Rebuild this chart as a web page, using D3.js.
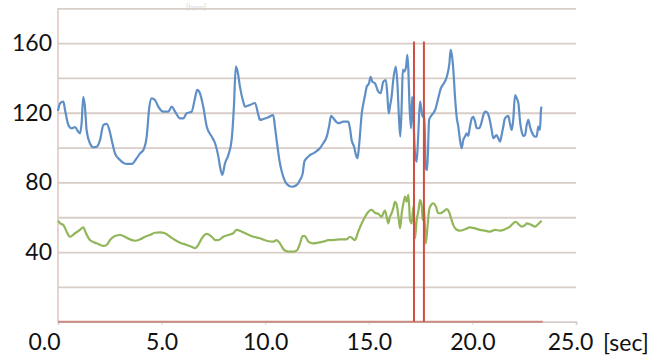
<!DOCTYPE html>
<html>
<head>
<meta charset="utf-8">
<script src="https://cdn.jsdelivr.net/npm/d3@7"></script>
<style>
body { margin: 0; background: #fff; }
text { font-family: Lato, "Open Sans", sans-serif; }
</style>
</head>
<body>
<script>
// heart rate (blue) trace, seconds / bpm
var hrTime = [0.00,0.10,0.26,0.34,0.50,0.66,0.82,0.98,1.06,1.14,1.22,1.30,1.38,1.54,1.70,1.87,2.03,2.19,2.35,2.48,2.59,2.75,2.99,3.32,3.56,3.80,3.96,4.12,4.28,4.41,4.52,4.68,4.84,5.08,5.32,5.49,5.65,5.89,6.05,6.21,6.45,6.61,6.72,6.85,7.01,7.18,7.42,7.58,7.74,7.82,7.93,8.06,8.22,8.38,8.49,8.58,8.67,8.78,8.94,9.03,9.27,9.51,9.67,9.75,9.91,10.15,10.39,10.47,10.55,10.71,10.87,11.04,11.28,11.52,11.68,11.81,11.89,12.00,12.16,12.32,12.48,12.64,12.80,12.97,13.08,13.18,13.29,13.42,13.53,13.77,14.01,14.09,14.17,14.29,14.38,14.45,14.51,14.58,14.66,14.74,14.82,14.90,15.01,15.09,15.17,15.30,15.46,15.57,15.70,15.82,15.89,15.96,16.02,16.10,16.18,16.30,16.38,16.46,16.52,16.59,16.64,16.71,16.80,16.86,16.91,16.96,17.04,17.09,17.15,17.23,17.31,17.39,17.47,17.52,17.60,17.68,17.75,17.82,17.91,18.04,18.20,18.35,18.48,18.60,18.76,18.89,18.95,19.02,19.08,19.16,19.24,19.32,19.40,19.48,19.56,19.64,19.72,19.80,19.88,19.97,20.04,20.13,20.21,20.33,20.45,20.53,20.61,20.72,20.82,20.93,21.01,21.09,21.17,21.25,21.33,21.41,21.49,21.57,21.73,21.81,21.90,21.97,22.06,22.14,22.22,22.30,22.38,22.46,22.54,22.62,22.70,22.78,22.86,22.94,23.02,23.10,23.18,23.26,23.31,23.34];
var hrValue = [121,125.4,126.4,121.6,113.0,111.1,111.7,109.1,108.2,114.0,129.2,123.5,110.1,102.5,100.2,100.5,104.4,113.0,113.6,110.1,104.4,96.7,92.9,90.6,90.6,93.9,96.7,98.6,106.3,123.5,128.3,127.3,123.5,120.6,120.6,123.5,120.6,116.8,116.8,119.7,120.6,128.3,133.1,131.2,123.5,112.0,106.3,102.5,94.8,89.0,84.3,91.0,95.7,104.4,123.5,146.5,143.6,135.0,126.4,123.5,124.5,125.6,118.7,115.9,116.4,117.4,118.7,112.0,104.4,91.0,83.3,79.1,77.5,78.5,81.4,85.2,91.9,93.9,95.7,96.7,98.0,99.6,102.5,106.3,112.0,118.2,116.8,114.9,114.0,114.9,114.9,111.1,104.4,100.5,95.7,93.9,98.6,108.2,119.7,125.4,130.2,135.0,136.9,140.7,137.9,136.9,132.1,131.2,137.9,138.8,131.2,119.7,123.5,129.2,138.8,146.5,136.9,115.9,106.3,125.4,144.6,143.6,146.5,153.2,144.6,125.4,111.1,129.2,117.7,96.7,91.9,108.2,126.4,123.5,117.7,118.7,88.1,87.1,115.9,118.7,121.6,128.3,134.1,136.5,140.5,148.4,156.1,152.2,144.6,129.2,117.7,112.0,104.4,99.6,104.4,106.3,108.2,106.7,112.0,116.8,117.7,114.9,111.1,111.1,114.9,118.7,120.6,120.1,116.8,110.1,105.3,106.3,107.2,105.3,103.4,107.2,112.0,116.8,118.2,114.0,110.1,115.9,130.2,128.3,125.4,114.9,109.1,106.7,107.2,113.0,115.9,112.0,109.1,107.2,106.3,106.3,112.0,110.1,121.6,123.5];

// second (green) trace
var lowTime = [0.00,0.10,0.26,0.42,0.58,0.82,1.06,1.22,1.35,1.54,1.87,2.19,2.35,2.51,2.75,2.99,3.23,3.47,3.72,3.96,4.20,4.44,4.68,4.92,5.16,5.41,5.65,5.89,6.21,6.45,6.61,6.77,6.94,7.18,7.42,7.58,7.74,7.98,8.22,8.46,8.62,8.87,9.11,9.43,9.75,10.07,10.39,10.55,10.71,10.91,11.11,11.36,11.55,11.68,11.81,11.92,12.08,12.32,12.56,12.80,13.05,13.29,13.61,13.93,14.09,14.33,14.49,14.66,14.82,14.98,15.14,15.30,15.46,15.62,15.70,15.78,15.86,15.94,16.02,16.10,16.18,16.26,16.35,16.43,16.51,16.59,16.67,16.75,16.83,16.91,16.99,17.07,17.15,17.23,17.31,17.39,17.47,17.55,17.60,17.66,17.75,17.82,17.91,18.00,18.11,18.24,18.35,18.47,18.60,18.76,18.87,18.97,19.08,19.21,19.40,19.64,19.88,20.13,20.37,20.61,20.85,21.09,21.33,21.57,21.81,21.97,22.09,22.22,22.38,22.54,22.62,22.86,23.02,23.18,23.34];
var lowValue = [58,56.5,55.5,51.7,48.8,50.8,52.7,54.2,50.8,46.9,45.0,43.5,44.1,46.9,49.2,49.8,48.8,47.3,46.5,47.3,48.8,49.8,51.1,51.3,50.8,48.8,46.9,45.4,44.1,43.1,42.2,44.1,47.9,50.4,48.8,46.9,46.9,48.8,49.8,50.8,52.7,51.7,50.4,48.8,47.9,46.5,46.0,46.9,45.0,41.2,40.2,40.2,41.2,45.0,49.2,49.2,46.0,45.0,45.4,46.0,46.9,46.9,47.3,47.3,48.8,46.9,51.7,56.5,60.3,63.2,64.2,62.6,61.9,60.3,62.3,63.8,60.3,56.5,60.3,62.3,65.1,68.9,67.0,60.3,53.6,62.3,68.0,71.8,68.9,72.8,58.4,56.5,66.1,47.9,58.4,63.2,69.9,67.0,58.4,66.1,45.0,52.7,64.2,67.0,68.0,66.1,62.3,62.3,63.2,64.6,63.2,59.4,55.5,53.1,52.3,53.1,54.2,53.6,52.7,52.3,51.7,52.7,52.3,53.1,54.6,56.5,57.4,56.1,54.6,55.5,56.5,55.5,54.6,56.1,58.0];

var markerTimes = [17.18, 17.66];
var gridValues = [20, 40, 60, 80, 100, 120, 140, 160, 180];
var yLabels = [40, 80, 120, 160];
var xTicks = [0, 5, 10, 15, 20, 25];
var recordEnd = 23.4;

var svg = d3.select("body").append("svg").attr("width", 665).attr("height", 362);
var x = d3.scaleLinear().domain([0, 25]).range([58, 576]);
var y = d3.scaleLinear().domain([0, 180]).range([321.7, 8.3]);

// faint caption at the top
svg.append("text").attr("x", 186).attr("y", 10).attr("font-size", 8)
  .attr("fill", "#d8d8d8").text("[bpm]");

// horizontal gridlines
svg.append("g").attr("transform", "translate(58,0)")
  .call(d3.axisLeft(y).tickValues(gridValues).tickSize(-518).tickFormat(""))
  .call(function(g){
    g.select(".domain").remove();
    g.selectAll("line").attr("stroke", "#d9cdc8").attr("stroke-width", 1.8);
  });

// y labels
svg.append("g").attr("transform", "translate(58,0)")
  .call(d3.axisLeft(y).tickValues(yLabels).tickSize(0).tickPadding(6).tickFormat(d3.format("d")))
  .call(function(g){
    g.select(".domain").remove();
    g.selectAll("text").attr("font-size", 23).attr("fill", "#111")
      .attr("font-family", "Lato, 'Open Sans', sans-serif");
  });

// left axis line
svg.append("line").attr("x1", 58).attr("x2", 58).attr("y1", y(180)).attr("y2", y(0))
  .attr("stroke", "#dcc6c1").attr("stroke-width", 1.5);

// x axis
svg.append("g").attr("transform", "translate(0," + y(0) + ")")
  .call(d3.axisBottom(x).tickValues(xTicks).tickSize(3).tickPadding(9).tickFormat(d3.format(".1f")))
  .call(function(g){
    g.select(".domain").attr("stroke", "#d6cdca").attr("stroke-width", 1.8);
    g.selectAll("line").attr("stroke", "#d6cdca");
    g.selectAll("text").attr("font-size", 23).attr("fill", "#111")
      .attr("font-family", "Lato, 'Open Sans', sans-serif")
      .attr("dx", function(d){ return d === 0 ? -14 : (d === 25 ? -6 : 0); });
  });

svg.append("text").attr("x", 603).attr("y", y(0) + 29).attr("font-size", 23)
  .attr("fill", "#111").text("[sec]");

// zero line of the recording
svg.append("line").attr("x1", x(0)).attr("x2", x(recordEnd)).attr("y1", y(0)).attr("y2", y(0))
  .attr("stroke", "#c98a80").attr("stroke-width", 2);

var line = d3.line().x(function(d){ return x(d[0]); }).y(function(d){ return y(d[1]); })
  .curve(d3.curveMonotoneX);

svg.append("path").datum(d3.zip(lowTime, lowValue)).attr("d", line)
  .attr("fill", "none").attr("stroke", "#92b65a").attr("stroke-width", 2.2);

svg.append("path").datum(d3.zip(hrTime, hrValue)).attr("d", line)
  .attr("fill", "none").attr("stroke", "#5f8fc6").attr("stroke-width", 2.2);

// event markers
svg.append("g").selectAll("line").data(markerTimes).enter().append("line")
  .attr("x1", function(d){ return x(d); }).attr("x2", function(d){ return x(d); })
  .attr("y1", y(161)).attr("y2", y(0))
  .attr("stroke", "#d24c40").attr("stroke-width", 2);
</script>
</body>
</html>
